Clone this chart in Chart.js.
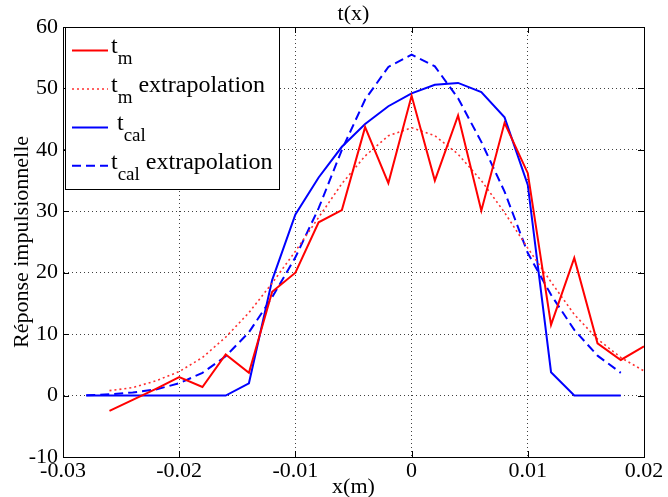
<!DOCTYPE html>
<html>
<head>
<meta charset="utf-8">
<script src="https://cdn.jsdelivr.net/npm/chart.js@4.4.0/dist/chart.umd.min.js"></script>
<style>
html,body{margin:0;padding:0;background:#ffffff;}
#divGrafico{width:668px;height:497px;}
</style>
</head>
<body>
<div id="divGrafico"><canvas id="graficoTx" width="668" height="497"></canvas></div>
<script>
// valores
const xTm = [-0.026,-0.024,-0.022,-0.020,-0.018,-0.016,-0.014,-0.012,-0.010,-0.008,-0.006,-0.004,-0.002,0,0.002,0.004,0.006,0.008,0.010,0.012,0.014,0.016,0.018,0.020];
const tm = [-2.5,-0.7,1.1,3.0,1.4,6.7,3.7,16.9,20.0,28.2,30.2,43.7,34.6,48.8,35.0,45.6,30.1,44.4,36.2,11.5,22.4,8.5,5.8,8.0];
const tmExtrap = [0.8,1.3,2.4,3.9,6.2,9.5,13.5,18.3,23.5,29.0,34.5,39.0,42.3,43.6,42.3,39.3,35.0,29.8,24.0,18.5,13.2,9.2,6.2,4.0];

const xCal = [-0.028,-0.026,-0.024,-0.022,-0.020,-0.018,-0.016,-0.014,-0.012,-0.010,-0.008,-0.006,-0.004,-0.002,0,0.002,0.004,0.006,0.008,0.010,0.012,0.014,0.016,0.018];
const tcal = [0,0,0,0,0,0,0,2.0,18.8,29.5,35.5,40.5,44.2,47.1,49.2,50.6,50.9,49.4,45.3,34.3,3.8,0,0,0];
const tcalExtrap = [0.05,0.2,0.5,1.0,2.0,3.7,6.4,10.3,16.0,22.5,30.5,40.0,48.2,53.5,55.5,53.6,48.4,41.3,33.2,23.2,16.4,10.7,6.5,3.7];

const xTicks = [-0.03,-0.02,-0.01,0,0.01,0.02];
const xTickLabels = ['-0.03','-0.02','-0.01','0','0.01','0.02'];
const yTicks = [-10,0,10,20,30,40,50,60];
const yTickLabels = ['-10','0','10','20','30','40','50','60'];

const FUENTE = "'Liberation Serif', 'Times New Roman', serif";

function puntos(xs, ys){
    return xs.map(function(x, i){ return {x: x, y: ys[i]}; });
}

const datasets = [
    {label: 'tm', sub: 'm', extra: '', data: puntos(xTm, tm), borderColor: '#ff0000', borderWidth: 2, borderDash: []},
    {label: 'tm extrapolation', sub: 'm', extra: ' extrapolation', data: puntos(xTm, tmExtrap), borderColor: '#ff3030', borderWidth: 1.6, borderDash: [2, 3]},
    {label: 'tcal', sub: 'cal', extra: '', pre: ' ', data: puntos(xCal, tcal), borderColor: '#0000ff', borderWidth: 2, borderDash: []},
    {label: 'tcal extrapolation', sub: 'cal', extra: ' extrapolation', data: puntos(xCal, tcalExtrap), borderColor: '#0000ff', borderWidth: 2, borderDash: [9, 5]}
];
datasets.forEach(function(d){
    d.showLine = true;
    d.pointRadius = 0;
    d.pointHoverRadius = 0;
    d.tension = 0;
    d.fill = false;
});

// marco, marcas interiores, titulo y leyenda estilo matlab
const marcoMatlab = {
    id: 'marcoMatlab',
    afterDraw: function(chart){
        const ctx = chart.ctx;
        const a = chart.chartArea;
        const sx = chart.scales.x;
        const sy = chart.scales.y;
        ctx.save();
        ctx.strokeStyle = '#000000';
        ctx.lineWidth = 1;
        ctx.setLineDash([]);
        ctx.strokeRect(Math.round(a.left) + 0.5, Math.round(a.top) + 0.5, Math.round(a.right - a.left), Math.round(a.bottom - a.top));
        ctx.beginPath();
        xTicks.forEach(function(v){
            const px = Math.round(sx.getPixelForValue(v)) + 0.5;
            ctx.moveTo(px, a.bottom); ctx.lineTo(px, a.bottom - 6);
            ctx.moveTo(px, a.top); ctx.lineTo(px, a.top + 6);
        });
        yTicks.forEach(function(v){
            const py = Math.round(sy.getPixelForValue(v)) + 0.5;
            ctx.moveTo(a.left, py); ctx.lineTo(a.left + 6, py);
            ctx.moveTo(a.right, py); ctx.lineTo(a.right - 6, py);
        });
        ctx.stroke();

        // titulo
        ctx.fillStyle = '#000000';
        ctx.font = '22px ' + FUENTE;
        ctx.textAlign = 'center';
        ctx.textBaseline = 'alphabetic';
        ctx.fillText('t(x)', (a.left + a.right) / 2, 20);

        // leyenda
        const lx = a.left + 2, ly = a.top, lw = 214, lh = 162;
        ctx.fillStyle = '#ffffff';
        ctx.fillRect(lx, ly, lw, lh);
        ctx.strokeStyle = '#000000';
        ctx.strokeRect(lx + 0.5, ly + 0.5, lw, lh);
        const filas = [23.4, 62, 100.4, 138.7];
        chart.data.datasets.forEach(function(d, i){
            const y = ly + filas[i];
            ctx.save();
            ctx.strokeStyle = d.borderColor;
            ctx.lineWidth = d.borderWidth;
            ctx.setLineDash(d.borderDash);
            ctx.beginPath();
            ctx.moveTo(lx + 7, y);
            ctx.lineTo(lx + 43, y);
            ctx.stroke();
            ctx.restore();
            ctx.fillStyle = '#000000';
            ctx.textAlign = 'left';
            let tx = lx + 46;
            ctx.font = '24px ' + FUENTE;
            const t = (d.pre || '') + 't';
            ctx.fillText(t, tx, y + 3);
            tx += ctx.measureText(t).width;
            ctx.font = '19px ' + FUENTE;
            ctx.fillText(d.sub, tx, y + 14);
            tx += ctx.measureText(d.sub).width;
            if(d.extra){
                ctx.font = '24px ' + FUENTE;
                ctx.fillText(d.extra, tx, y + 3);
            }
        });
        ctx.restore();
    }
};

const gridColor = 'rgba(0,0,0,0.75)';

new Chart(document.getElementById('graficoTx'), {
    type: 'scatter',
    data: {datasets: datasets},
    plugins: [marcoMatlab],
    options: {
        responsive: false,
        animation: false,
        devicePixelRatio: 1,
        layout: {padding: {top: 27, right: 24, bottom: 0, left: 0}},
        plugins: {
            legend: {display: false},
            title: {display: false},
            tooltip: {enabled: false}
        },
        scales: {
            x: {
                type: 'linear',
                min: -0.03,
                max: 0.02,
                afterBuildTicks: function(scale){
                    scale.ticks = xTicks.map(function(v){ return {value: v}; });
                },
                afterFit: function(scale){ scale.height = 40; },
                ticks: {
                    color: '#000000',
                    padding: 1,
                    maxRotation: 0,
                    autoSkip: false,
                    font: {family: FUENTE, size: 22},
                    callback: function(v, i){ return xTickLabels[i]; }
                },
                grid: {color: gridColor, lineWidth: 1, drawTicks: false},
                border: {display: true, color: '#000000', dash: [1, 3], width: 1},
                title: {
                    display: true,
                    text: 'x(m)',
                    color: '#000000',
                    font: {family: FUENTE, size: 22, lineHeight: 1},
                    padding: {top: 0, bottom: -1}
                }
            },
            y: {
                type: 'linear',
                min: -10,
                max: 60,
                afterBuildTicks: function(scale){
                    scale.ticks = yTicks.map(function(v){ return {value: v}; });
                },
                afterFit: function(scale){ scale.width = 63; },
                ticks: {
                    color: '#000000',
                    padding: 5,
                    autoSkip: false,
                    font: {family: FUENTE, size: 22},
                    callback: function(v, i){ return yTickLabels[i]; }
                },
                grid: {color: gridColor, lineWidth: 1, drawTicks: false},
                border: {display: true, color: '#000000', dash: [1, 3], width: 1},
                title: {
                    display: true,
                    text: 'Réponse impulsionnelle',
                    color: '#000000',
                    font: {family: FUENTE, size: 22, lineHeight: 1},
                    padding: {top: 11, bottom: 0}
                }
            }
        }
    }
});
</script>
</body>
</html>
